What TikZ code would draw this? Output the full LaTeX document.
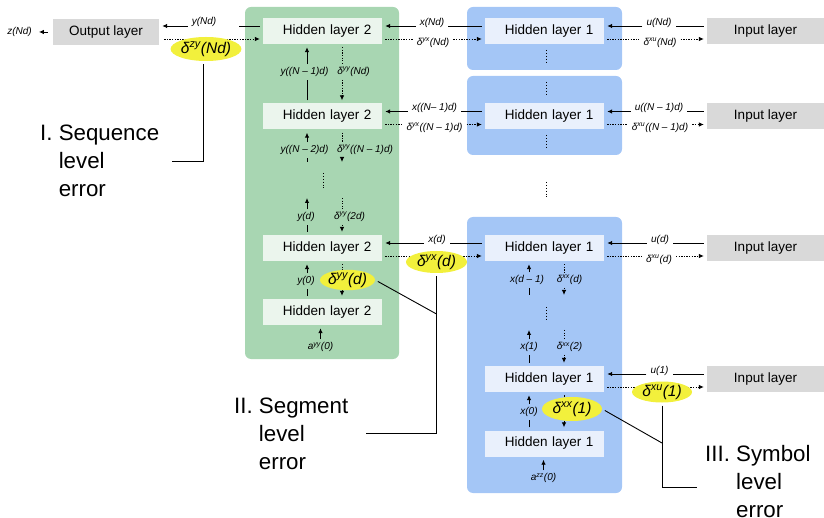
\documentclass[tikz,border=0pt]{standalone}
\usepackage{fontspec}
\setmainfont{Liberation Sans}
\usetikzlibrary{arrows.meta,shapes.geometric}

\definecolor{panelgreen}{RGB}{168,214,178}
\definecolor{boxgreen}{RGB}{235,245,237}
\definecolor{panelblue}{RGB}{164,198,246}
\definecolor{boxblue}{RGB}{233,240,252}
\definecolor{iogray}{RGB}{217,217,217}
\definecolor{erryellow}{RGB}{242,240,60}

\tikzset{
  layerbox/.style={fill=iogray, minimum width=117pt, minimum height=26pt, inner sep=0pt, font=\fontsize{13.5}{16}\selectfont},
  hidbox/.style={text width=98pt, align=right, inner xsep=10.5pt, inner ysep=0pt, minimum height=26pt, font=\fontsize{13.5}{16}\selectfont},
  hidtwo/.style={hidbox, fill=boxgreen},
  hidone/.style={hidbox, fill=boxblue},
  lab/.style={font=\fontsize{10}{12}\selectfont\itshape, inner xsep=4pt, inner ysep=3pt},
  errmark/.style={ellipse, fill=erryellow, inner sep=0pt, font=\fontsize{15.5}{18}\selectfont\itshape},
  fwd/.style={line width=0.9pt, shorten >=3pt, -{Latex[length=5pt,width=4.5pt]}},
  fwdline/.style={line width=0.9pt, shorten <=3pt},
  bwd/.style={line width=0.8pt, dash pattern=on 1.3pt off 1.3pt, shorten >=3pt, -{Latex[length=5pt,width=4.5pt]}},
  bwdline/.style={line width=0.8pt, dash pattern=on 1.3pt off 1.3pt, shorten <=3pt},
  vdots/.style={line width=0.8pt, dash pattern=on 0.9pt off 2pt},
  callout/.style={inner sep=0pt, anchor=north west, font=\fontsize{22.3}{28}\selectfont},
  pointer/.style={line width=0.9pt, shorten <=3pt}
}

\begin{document}
\begin{tikzpicture}[x=1pt,y=-1pt]
\useasboundingbox (0,0) rectangle (824,518);

% panels
\fill[panelgreen,rounded corners=6pt] (245,7) rectangle (399,359);
\fill[panelblue,rounded corners=6pt] (467,7) rectangle (622,70);
\fill[panelblue,rounded corners=6pt] (467,76) rectangle (622,155);
\fill[panelblue,rounded corners=6pt] (467,217) rectangle (622,493);

% layers
\node[layerbox, minimum width=106pt] (out) at (106,32) {Output layer};
\node[hidtwo] (hb1) at (322.5,31) {Hidden layer 2};
\node[hidtwo] (hb2) at (322.5,116.5) {Hidden layer 2};
\node[hidtwo] (hb3) at (322.5,248) {Hidden layer 2};
\node[hidtwo] (hb4) at (322.5,312) {Hidden layer 2};
\node[hidone] (ha1) at (544.5,31) {Hidden layer 1};
\node[hidone] (ha2) at (544.5,116.5) {Hidden layer 1};
\node[hidone] (ha3) at (544.5,248) {Hidden layer 1};
\node[hidone] (ha4) at (544.5,379) {Hidden layer 1};
\node[hidone] (ha5) at (544.5,443.5) {Hidden layer 1};
\node[layerbox] (in1) at (765.5,31) {Input layer};
\node[layerbox] (in2) at (765.5,116.5) {Input layer};
\node[layerbox] (in3) at (765.5,248) {Input layer};
\node[layerbox] (in4) at (765.5,379) {Input layer};

% labels on the horizontal links
\node[lab] (zl0) at (19.5,32) {z(Nd)};
\node[lab] (yl0) at (204,22) {y(Nd)};
\node[lab] (xl1) at (432,22.5) {x(Nd)};
\node[lab] (dl1) at (433,42.5) {δ\textsuperscript{yx}(Nd)};
\node[lab] (xl2) at (434.5,108) {x((N– 1)d)};
\node[lab] (dl2) at (434.5,128) {δ\textsuperscript{yx}((N – 1)d)};
\node[lab] (xl3) at (437,239.5) {x(d)};
\node[lab] (ul1) at (659,22.5) {u(Nd)};
\node[lab] (el1) at (660,42.5) {δ\textsuperscript{xu}(Nd)};
\node[lab] (ul2) at (659,108) {u((N – 1)d)};
\node[lab] (el2) at (660,128) {δ\textsuperscript{xu}((N – 1)d)};
\node[lab] (ul3) at (660,239.5) {u(d)};
\node[lab] (el3) at (659,259.5) {δ\textsuperscript{xu}(d)};
\node[lab] (ul4) at (659.5,370.5) {u(1)};

% labels on the vertical links
\node[lab] (ya1) at (304.5,72) {y((N – 1)d)};
\node[lab] (dy1) at (353.5,72) {δ\textsuperscript{yy}(Nd)};
\node[lab] (ya2) at (304.5,150) {y((N – 2)d)};
\node[lab] (dy2) at (365,150) {δ\textsuperscript{yy}((N – 1)d)};
\node[lab] (ya3) at (306,217) {y(d)};
\node[lab] (dy3) at (349.5,217) {δ\textsuperscript{yy}(2d)};
\node[lab] (ya4) at (306,281) {y(0)};
\node[lab] (ayy) at (320.5,347) {a\textsuperscript{yy}(0)};
\node[lab] (xa1) at (527,280) {x(d – 1)};
\node[lab] (dx1) at (569.5,280) {δ\textsuperscript{xx}(d)};
\node[lab] (xa2) at (529,347) {x(1)};
\node[lab] (dx2) at (569.5,347) {δ\textsuperscript{xx}(2)};
\node[lab] (xa3) at (529,412) {x(0)};
\node[lab] (azz) at (543.5,478) {a\textsuperscript{zz}(0)};

% output side
\draw[fwdline] ([yshift=5pt]hb1.west) -- ++(-24pt,0);
\draw[fwd] ([yshift=5pt]hb1.west -| yl0.west) -- ([yshift=5pt]hb1.west -| out.east);
\draw[bwd, shorten <=5pt] ([yshift=-8pt]hb1.west -| out.east) -- ([yshift=-8pt]hb1.west);
\draw[fwd] ([xshift=-5pt]out.west) -- (zl0.east);

% hidden layer 1 -> hidden layer 2, input -> hidden layer 1
\foreach \r in {1,2} {
  \draw[fwdline] ([yshift=5pt]ha\r.west) -- ([yshift=5pt]ha\r.west -| xl\r.east);
  \draw[fwd] ([yshift=5pt]ha\r.west -| xl\r.west) -- ([yshift=5pt]hb\r.east);
  \draw[bwdline] ([yshift=-8pt]hb\r.east) -- ([yshift=-8pt]hb\r.east -| dl\r.west);
  \draw[bwd] ([yshift=-8pt]hb\r.east -| dl\r.east) -- ([yshift=-8pt]ha\r.west);
}
\draw[fwdline] ([yshift=5pt]ha3.west) -- ([yshift=5pt]ha3.west -| xl3.east);
\draw[fwd] ([yshift=5pt]ha3.west -| xl3.west) -- ([yshift=5pt]hb3.east);
\draw[bwd, shorten <=3pt] ([yshift=-8pt]hb3.east) -- ([yshift=-8pt]ha3.west);
\foreach \r in {1,2,3} {
  \draw[fwdline] ([yshift=5pt]in\r.west) -- ([yshift=5pt]in\r.west -| ul\r.east);
  \draw[fwd] ([yshift=5pt]in\r.west -| ul\r.west) -- ([yshift=5pt]ha\r.east);
  \draw[bwdline] ([yshift=-8pt]ha\r.east) -- ([yshift=-8pt]ha\r.east -| el\r.west);
  \draw[bwd] ([yshift=-8pt]ha\r.east -| el\r.east) -- ([yshift=-8pt]in\r.west);
}
\draw[fwdline] ([yshift=5pt]in4.west) -- ([yshift=5pt]in4.west -| ul4.east);
\draw[fwd] ([yshift=5pt]in4.west -| ul4.west) -- ([yshift=5pt]ha4.east);
\draw[bwd, shorten <=3pt] ([yshift=-8pt]ha4.east) -- ([yshift=-8pt]in4.west);

% hidden layer 2 stack
\coordinate (gb) at (322.5,165);
\coordinate (gc) at (322.5,195);
\draw[fwdline] ([xshift=-15.5pt]hb2.north) -- ([xshift=-15.5pt]hb2.north |- ya1.south);
\draw[fwd] ([xshift=-15.5pt]hb1.south |- ya1.north) -- ([xshift=-15.5pt]hb1.south);
\draw[bwdline] ([xshift=19.5pt]hb1.south) -- ([xshift=19.5pt]hb1.south |- dy1.north);
\draw[bwd] ([xshift=19.5pt]hb1.south |- dy1.south) -- ([xshift=19.5pt]hb2.north);
\draw[fwdline] ([xshift=-15.5pt]gb) -- ([xshift=-15.5pt]gb |- ya2.south);
\draw[fwd] ([xshift=-15.5pt]hb2.south |- ya2.north) -- ([xshift=-15.5pt]hb2.south);
\draw[bwdline] ([xshift=19.5pt]hb2.south) -- ([xshift=19.5pt]hb2.south |- dy2.north);
\draw[bwd] ([xshift=19.5pt]hb2.south |- dy2.south) -- ([xshift=19.5pt]gb);
\draw[vdots] (323,173) -- (323,189);
\draw[fwdline] ([xshift=-15.5pt]hb3.north) -- ([xshift=-15.5pt]hb3.north |- ya3.south);
\draw[fwd] ([xshift=-15.5pt]gc |- ya3.north) -- ([xshift=-15.5pt]gc);
\draw[bwdline] ([xshift=19.5pt]gc) -- ([xshift=19.5pt]gc |- dy3.north);
\draw[bwd] ([xshift=19.5pt]gc |- dy3.south) -- ([xshift=19.5pt]hb3.north);
\draw[fwdline] ([xshift=-15.5pt]hb4.north) -- ([xshift=-15.5pt]hb4.north |- ya4.south);
\draw[fwd] ([xshift=-15.5pt]hb3.south |- ya4.north) -- ([xshift=-15.5pt]hb3.south);
\draw[bwd, shorten <=3pt] ([xshift=19.5pt]hb3.south) -- ([xshift=19.5pt]hb4.north);
\draw[fwd] (ayy.north) -- (ayy.north |- hb4.south);

% hidden layer 1 stack
\coordinate (ge) at (544.5,298);
\coordinate (gf) at (544.5,327);
\draw[vdots] (546,50) -- (546,63);
\draw[vdots] (546,82) -- (546,95);
\draw[vdots] (546,135) -- (546,148);
\draw[vdots] (546,182) -- (546,197);
\draw[fwd] ([xshift=-15.5pt]ha3.south |- xa1.north) -- ([xshift=-15.5pt]ha3.south);
\draw[fwdline] ([xshift=-15.5pt]ge) -- ([xshift=-15.5pt]ge |- xa1.south);
\draw[bwdline] ([xshift=19.5pt]ha3.south) -- ([xshift=19.5pt]ha3.south |- dx1.north);
\draw[bwd] ([xshift=19.5pt]ha3.south |- dx1.south) -- ([xshift=19.5pt]ge);
\draw[vdots] (546,307) -- (546,320);
\draw[fwd] ([xshift=-15.5pt]gf |- xa2.north) -- ([xshift=-15.5pt]gf);
\draw[fwdline] ([xshift=-15.5pt]ha4.north) -- ([xshift=-15.5pt]ha4.north |- xa2.south);
\draw[bwdline] ([xshift=19.5pt]gf) -- ([xshift=19.5pt]gf |- dx2.north);
\draw[bwd] ([xshift=19.5pt]gf |- dx2.south) -- ([xshift=19.5pt]ha4.north);
\draw[fwd] ([xshift=-15.5pt]ha4.south |- xa3.north) -- ([xshift=-15.5pt]ha4.south);
\draw[fwdline] ([xshift=-15.5pt]ha5.north) -- ([xshift=-15.5pt]ha5.north |- xa3.south);
\draw[bwd, shorten <=3pt] ([xshift=19.5pt]ha4.south) -- ([xshift=19.5pt]ha5.north);
\draw[fwd] (azz.north) -- (azz.north |- ha5.south);

% error terms
\node[errmark, minimum width=62pt, minimum height=24pt] (ez0) at (206,49) {δ\textsuperscript{zy}(Nd)};
\node[errmark, minimum width=55pt, minimum height=19pt] (eyy) at (347.5,280) {δ\textsuperscript{yy}(d)};
\node[errmark, minimum width=61pt, minimum height=22pt] (ey3) at (436.5,262) {δ\textsuperscript{yx}(d)};
\node[errmark, minimum width=60pt, minimum height=24pt] (exx) at (572,409) {δ\textsuperscript{xx}(1)};
\node[errmark, minimum width=60pt, minimum height=21pt] (eu4) at (662,392) {δ\textsuperscript{xu}(1)};

% callouts
\node[callout] (seqerr) at (40,120.5) {\begin{tabular}{@{}l@{\ }l@{}}I. & Sequence\\ & level\\ & error\end{tabular}};
\node[callout] (segerr) at (234,393.5) {\begin{tabular}{@{}l@{\ }l@{}}II. & Segment\\ & level\\ & error\end{tabular}};
\node[callout] (symerr) at (705,441.5) {\begin{tabular}{@{}l@{\ }l@{}}III. & Symbol\\ & level\\ & error\end{tabular}};
\coordinate (seqend) at (172,161.5);
\coordinate (segend) at (366,433);
\coordinate (segjoin) at (436.5,314);
\coordinate (symend) at (697,487);
\coordinate (symjoin) at (662,443);
\draw[pointer] ([xshift=-3pt]ez0.south) |- (seqend);
\draw[pointer] (ey3.south) |- (segend);
\draw[pointer] (eyy.east) -- (segjoin);
\draw[pointer] (eu4.south) |- (symend);
\draw[pointer] (exx.east) -- (symjoin);
\end{tikzpicture}
\end{document}
